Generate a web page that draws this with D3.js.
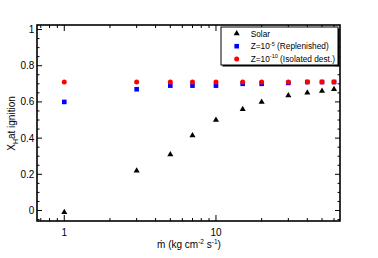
<!DOCTYPE html>
<html>
<head>
<meta charset="utf-8">
<script src="https://cdn.jsdelivr.net/npm/d3@7"></script>
<style>
  body { margin: 0; background: #fff; }
  text { font-family: "Liberation Sans", Arial, sans-serif; }
</style>
</head>
<body>
<div id="chart"></div>
<script>
// mass accretion rate (kg cm^-2 s^-1)
var mdot = [1, 3, 5, 7, 10, 15, 20, 30, 40, 50, 60];
var solar = [-0.01, 0.22, 0.31, 0.415, 0.50, 0.56, 0.60, 0.635, 0.65, 0.66, 0.67];
var replenished = [0.60, 0.67, 0.69, 0.69, 0.69, 0.70, 0.70, 0.705, 0.71, 0.71, 0.71];
var isolated = [0.71, 0.71, 0.71, 0.71, 0.71, 0.71, 0.71, 0.71, 0.71, 0.71, 0.71];
var yTicks = [0, 0.2, 0.4, 0.6, 0.8, 1];
var xTicks = [1, 10];

var W = 378, H = 258;
var margin = {top: 25, right: 38, bottom: 37, left: 37};
var width = W - margin.left - margin.right,
    height = H - margin.top - margin.bottom;

var svg = d3.select("#chart").append("svg")
    .attr("width", W)
    .attr("height", H);

var g = svg.append("g")
    .attr("transform", "translate(" + margin.left + "," + margin.top + ")");

var x = d3.scaleLog()
    .domain([0.661, 65.7])
    .range([0, width]);

var y = d3.scaleLinear()
    .domain([-0.058, 1.025])
    .range([height, 0]);

// minor tick values
var xMinor = [];
[0.1, 1, 10].forEach(function(dec) {
    for (var k = 2; k <= 9; k++) {
        var v = k * dec;
        if (v > x.domain()[0] && v < x.domain()[1]) xMinor.push(v);
    }
});
var yMinor = d3.range(-0.05, 1.03, 0.05).filter(function(v) {
    return Math.abs(Math.round(v * 5) - v * 5) > 1e-6;
});

// ticks on all four sides, pointing inward
function ticksX(vals, len) {
    vals.forEach(function(v) {
        g.append("line").attr("x1", x(v)).attr("x2", x(v))
            .attr("y1", height).attr("y2", height - len)
            .attr("stroke", "#000").attr("stroke-width", 1);
        g.append("line").attr("x1", x(v)).attr("x2", x(v))
            .attr("y1", 0).attr("y2", len)
            .attr("stroke", "#000").attr("stroke-width", 1);
    });
}
function ticksY(vals, len) {
    vals.forEach(function(v) {
        g.append("line").attr("x1", 0).attr("x2", len)
            .attr("y1", y(v)).attr("y2", y(v))
            .attr("stroke", "#000").attr("stroke-width", 1);
        g.append("line").attr("x1", width).attr("x2", width - len)
            .attr("y1", y(v)).attr("y2", y(v))
            .attr("stroke", "#000").attr("stroke-width", 1);
    });
}
ticksX(xTicks, 6);
ticksX(xMinor, 3);
ticksY(yTicks, 5);
ticksY(yMinor, 2.5);

// frame
g.append("rect")
    .attr("width", width)
    .attr("height", height)
    .attr("fill", "none")
    .attr("stroke", "#000")
    .attr("stroke-width", 1.6);

// tick labels
g.selectAll(".ylab").data(yTicks).enter().append("text")
    .attr("x", -2.7)
    .attr("y", function(d) { return y(d) + 3.5; })
    .attr("text-anchor", "end")
    .style("font-size", "10px")
    .text(function(d) { return d3.format("~g")(d); });

g.selectAll(".xlab").data(xTicks).enter().append("text")
    .attr("x", function(d) { return x(d); })
    .attr("y", height + 15)
    .attr("text-anchor", "middle")
    .style("font-size", "10px")
    .text(function(d) { return d; });

// axis titles
var xt = svg.append("text")
    .attr("x", 189)
    .attr("y", 247.5)
    .attr("text-anchor", "middle")
    .style("font-size", "10px");
xt.append("tspan").text("\u1E41 (kg cm");
xt.append("tspan").attr("dy", -3.8).style("font-size", "6.5px").text("-2");
xt.append("tspan").attr("dy", 3.8).text(" s");
xt.append("tspan").attr("dy", -3.8).style("font-size", "6.5px").text("-1");
xt.append("tspan").attr("dy", 3.8).text(")");

var yt = svg.append("text")
    .attr("transform", "translate(15," + 123.5 + ") rotate(-90)")
    .attr("text-anchor", "middle")
    .style("font-size", "10px");
yt.append("tspan").text("X");
yt.append("tspan").attr("dy", 3).style("font-size", "7px").text("H");
yt.append("tspan").attr("dy", -3).text("at ignition");

// data markers
var tri = d3.symbol().type(d3.symbolTriangle).size(16);
g.selectAll(".solar").data(mdot).enter().append("path")
    .attr("d", tri)
    .attr("transform", function(d, i) { return "translate(" + x(d) + "," + y(solar[i]) + ")"; })
    .attr("fill", "#000");

g.selectAll(".repl").data(mdot).enter().append("rect")
    .attr("x", function(d) { return x(d) - 2.3; })
    .attr("y", function(d, i) { return y(replenished[i]) - 2.3; })
    .attr("width", 4.6)
    .attr("height", 4.6)
    .attr("fill", "#0000ff");

g.selectAll(".iso").data(mdot).enter().append("circle")
    .attr("cx", function(d) { return x(d); })
    .attr("cy", function(d, i) { return y(isolated[i]); })
    .attr("r", 2.5)
    .attr("fill", "#ff0000");

// legend
var legend = svg.append("g").attr("transform", "translate(221,27)");
legend.append("rect")
    .attr("x", 1.5).attr("y", 1.5)
    .attr("width", 117).attr("height", 38)
    .attr("fill", "#000");
legend.append("rect")
    .attr("width", 117).attr("height", 38)
    .attr("fill", "#fff")
    .attr("stroke", "#000")
    .attr("stroke-width", 1);

var rows = [
    {label: "Solar", sup: null, rest: null, kind: "tri"},
    {label: "Z=10", sup: "-5", rest: " (Replenished)", kind: "sq"},
    {label: "Z=10", sup: "-10", rest: " (Isolated dest.)", kind: "circ"}
];
rows.forEach(function(r, i) {
    var ry = 6.5 + i * 12.7;
    if (r.kind == "tri") {
        legend.append("path").attr("d", tri)
            .attr("transform", "translate(15.7," + ry + ")")
            .attr("fill", "#000");
    } else if (r.kind == "sq") {
        legend.append("rect")
            .attr("x", 15.7 - 2.3).attr("y", ry - 2.3)
            .attr("width", 4.6).attr("height", 4.6)
            .attr("fill", "#0000ff");
    } else {
        legend.append("circle")
            .attr("cx", 15.7).attr("cy", ry)
            .attr("r", 2.5)
            .attr("fill", "#ff0000");
    }
    var t = legend.append("text")
        .attr("x", 29.7)
        .attr("y", ry + 3)
        .style("font-size", "8.3px");
    t.append("tspan").text(r.label);
    if (r.sup) {
        t.append("tspan").attr("dy", -3.5).style("font-size", "5.5px").text(r.sup);
        t.append("tspan").attr("dy", 3.5).text(r.rest);
    }
});
</script>
</body>
</html>
